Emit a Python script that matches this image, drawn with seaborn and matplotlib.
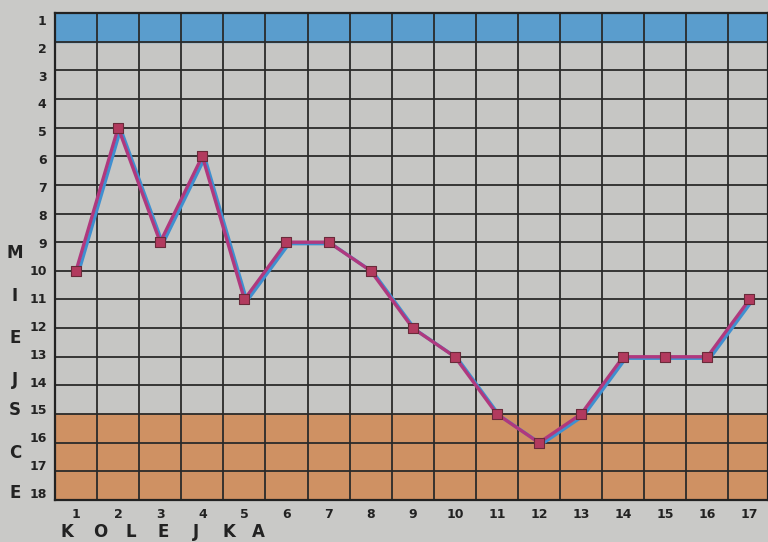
import seaborn as sns
import pandas as pd
import matplotlib.pyplot as plt
import matplotlib.transforms as mtransforms

# league position after each round
rounds = list(range(1, 18))
positions = [10, 5, 9, 6, 11, 9, 9, 10, 12, 13, 15, 16, 15, 13, 13, 13, 11]
y_labels = list(range(1, 19))
side_letters = ["M", "I", "E", "J", "S", "C", "E"]
bottom_letters = ["K", "O", "L", "E", "J", "K", "A"]

df = pd.DataFrame({"kolejka": rounds, "miejsce": positions})

sns.set_style("white")
plt.rcParams["font.family"] = ["DejaVu Sans"]

fig = plt.figure(figsize=(7.68, 5.42), dpi=100)
fig.patch.set_facecolor("#c9c9c7")
ax = fig.add_axes([55 / 768, 42 / 542, 713 / 768, 487 / 542])
ax.set_facecolor("#c6c6c4")

ax.axhspan(1, 2, color="#5a9dcd", zorder=0)
ax.axhspan(15, 18, color="#cf9163", zorder=0)

# grid
for y in y_labels:
    ax.axhline(y, color="#2a2a2a", lw=1.3, zorder=1)
for x in [r - 0.5 for r in rounds] + [17.5]:
    ax.axvline(x, color="#2a2a2a", lw=1.3, zorder=1)

# blue shadow line shifted slightly, magenta line on top
shift = mtransforms.offset_copy(ax.transData, fig=fig, x=2.5, y=-1.5, units="dots")
sns.lineplot(data=df, x="kolejka", y="miejsce", ax=ax, color="#3f8fd0", lw=2.4,
             transform=shift, zorder=3)
sns.lineplot(data=df, x="kolejka", y="miejsce", ax=ax, color="#b0387e", lw=2.4, zorder=4)
sns.scatterplot(data=df, x="kolejka", y="miejsce", ax=ax, marker="s", s=50,
                color="#b23a5e", edgecolor="#6a2a3a", linewidth=0.8, zorder=5)

ax.set_xlim(0.5, 17.44)
ax.set_ylim(18, 1)
ax.set_xticks(rounds)
ax.set_xticklabels([str(r) for r in rounds], fontsize=9, fontweight="bold", color="#222222")
# labels in the print sit a little compressed relative to the lines
ytick_pos = [1 + (7 + (i - 1) * (473 / 17 - 28.65)) / 28.65 + (i - 1) for i in y_labels]
ax.set_yticks(ytick_pos)
ax.set_yticklabels([str(y) for y in y_labels], fontsize=9, fontweight="bold", color="#222222")
ax.tick_params(length=0, pad=6)
ax.set_xlabel("")
ax.set_ylabel("")
for s in ax.spines.values():
    s.set_color("#222222")
    s.set_linewidth(1.6)

side_y = [253, 296, 338, 380, 410, 453, 493]
for ch, yp in zip(side_letters, side_y):
    fig.text(15 / 768, 1 - yp / 542, ch, ha="center", va="center", fontsize=12,
             fontweight="bold", color="#222222")
bottom_x = [67, 100, 131, 163, 196, 229, 258]
for ch, xp in zip(bottom_letters, bottom_x):
    fig.text(xp / 768, 1 - 532 / 542, ch, ha="center", va="center", fontsize=12,
             fontweight="bold", color="#222222")

fig.savefig("out.png", dpi=100, facecolor=fig.get_facecolor())
